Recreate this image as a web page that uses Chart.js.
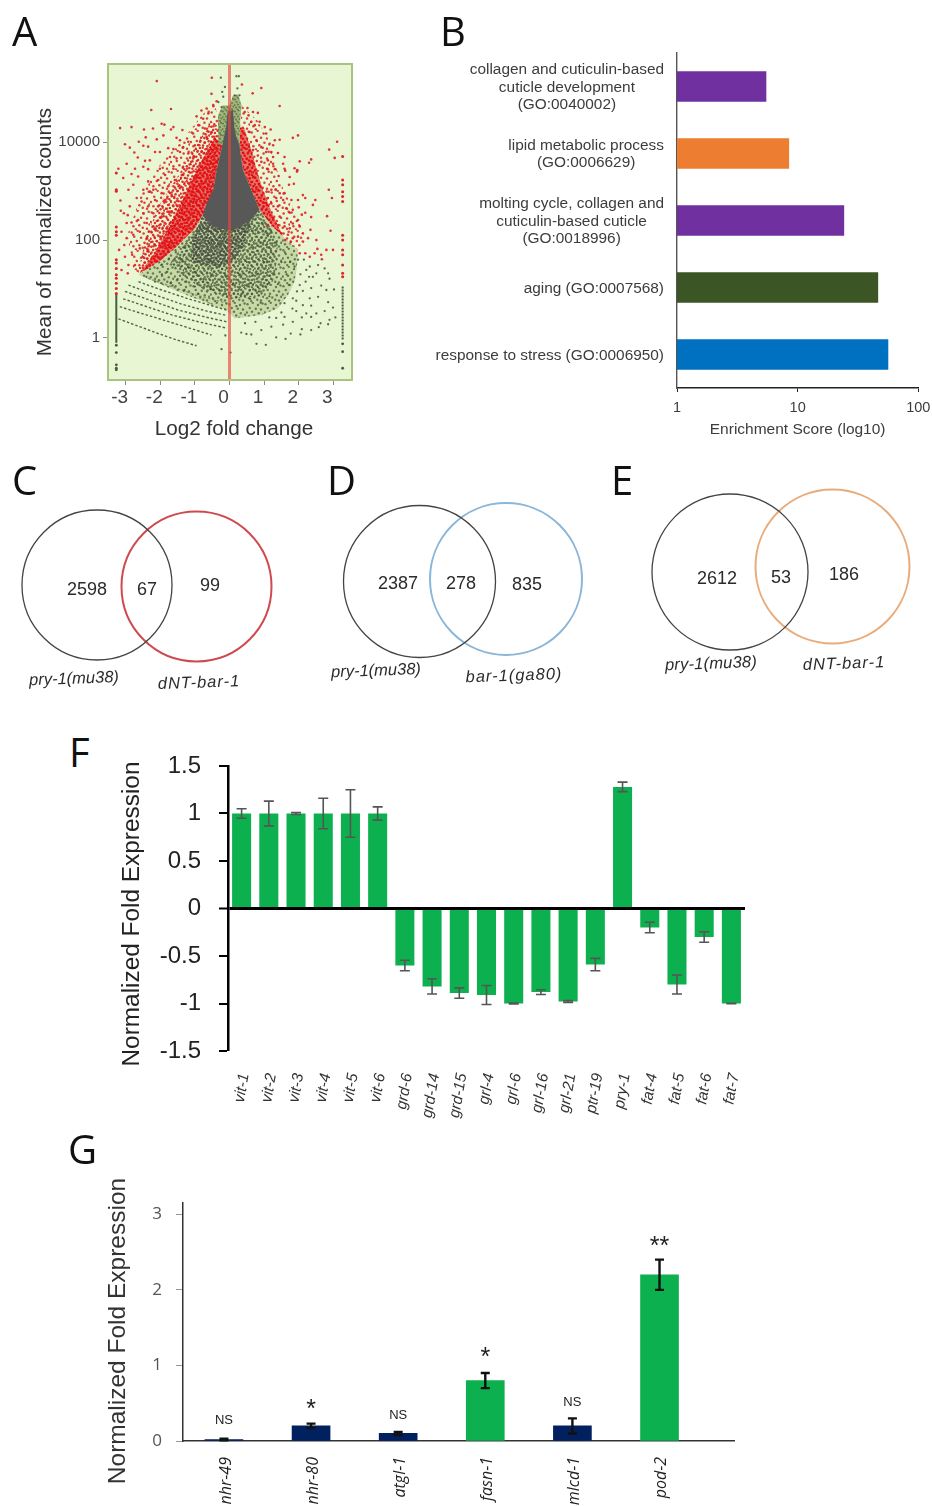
<!DOCTYPE html>
<html>
<head>
<meta charset="utf-8">
<title>Panels A-G</title>
<script src="https://cdn.jsdelivr.net/npm/chart.js@4/dist/chart.umd.js"></script>
<style>
html, body { margin: 0; padding: 0; background: #fff; }
#page { position: relative; width: 932px; height: 1506px; overflow: hidden; }
#page canvas { position: absolute; filter: blur(.4px); }
.letter { position: absolute; font: 40px "Open Sans", sans-serif; color: #111; line-height: 40px; }
</style>
</head>
<body>
<div id="page"></div>
<script>
// ---- panel A: log2 fold change against log10 mean count, [x, log10 y]
const maTicksX = [-3, -2, -1, 0, 1, 2, 3];
const maTicksY = [1, 100, 10000];
const maRedDots = [
  [-2.10,5.25],[-.51,5.32],[-2.26,4.66],[-1.69,4.68],[-3.16,4.29],[-2.83,4.31],[-2.47,4.26],[-2.21,4.28],[-1.96,4.38],[-1.88,4.36],
  [-1.62,4.31],[-1.69,4.26],[-1.36,4.25],[-2.42,4.10],[-1.91,4.14],[-2.10,4.06],[-2.62,4.01],[-3.02,3.96],[-2.88,3.89],[-2.49,3.93],
  [-2.35,3.91],[-2.75,3.79],[-2.65,3.69],[-1.53,4.09],[-1.43,4.04],[-1.77,3.88],[-1.62,3.86],[-1.34,3.90],[-1.43,3.80],[-1.19,4.01],
  [-1.05,4.18],[-.95,4.53],[-.81,4.65],[-.66,4.69],[-.47,4.76],[-.52,4.99],[-.37,4.84],[-.76,4.48],[-.61,4.59],[-.90,4.35],
  [-.71,4.28],[-2.44,3.62],[-2.30,3.63],[-2.15,3.80],[-2.01,3.80],[-1.72,3.70],[-1.53,3.67],[-1.19,3.77],[-1.05,3.67],[-3.21,3.46],
  [-2.97,3.56],[-2.73,3.46],[-2.49,3.50],[-2.35,3.45],[-2.01,3.46],[-1.62,3.46],[-1.34,3.50],[-.85,4.01],[-.66,4.11],[-.52,4.21],
  [-1.00,3.94],[-.81,3.80],[-3.07,3.27],[-2.92,3.03],[-2.78,3.13],[-2.83,3.35],[-2.64,3.30],[-2.35,3.20],[-2.49,3.03],[-2.20,3.03],
  [-2.68,2.86],[-3.15,2.81],[-2.88,2.69],[-3.05,2.55],[-2.94,2.51],[-3.14,2.60],[-2.83,2.36],[-2.97,2.35],[-2.64,2.41],[-2.49,2.55],
  [-2.35,2.69],[-2.15,2.82],[-1.96,2.96],[-1.77,3.10],[-1.58,3.23],[-1.38,3.33],[-1.19,3.16],[-1.00,3.30],[-.81,3.16],[-2.06,3.23],
  [-1.86,3.33],[-2.30,2.99],[-2.54,2.79],[-2.06,2.69],[-1.86,2.82],[-1.67,2.92],[-1.43,3.06],[-1.29,2.86],[-1.09,2.99],[-1.53,2.72],
  [-1.72,2.58],[-1.96,2.48],[-2.20,2.55],[-2.39,2.35],[-2.15,2.24],[-2.59,2.17],[-2.78,2.11],[-2.97,2.04],[-3.12,2.17],[-3.04,1.90],
  [-3.19,1.80],[-2.81,1.70],[-3.02,1.66],[-2.59,1.83],[-2.39,2.04],[-2.35,1.80],[-2.49,1.65],[-2.73,1.49],[-2.92,1.49],[-2.94,1.32],
  [-3.12,1.39],[-2.15,1.90],[-2.01,2.07],[-1.82,2.24],[-1.62,2.41],[-1.38,2.55],[-1.14,2.69],[-.95,2.82],[-.76,3.03],[-.61,3.27],
  [-1.67,2.11],[-1.43,2.28],[-1.19,2.41],[-1.86,1.93],[-2.06,1.77],[-2.25,1.63],
  [.92,5.11],[.36,5.18],[.67,5.00],[1.45,4.74],[.52,4.70],[.68,4.62],[.82,4.60],[.55,4.55],[.44,4.62],[1.98,4.14],
  [1.83,4.09],[1.45,4.05],[1.31,4.04],[1.16,3.97],[1.26,3.94],[1.19,4.26],[1.02,4.31],[1.06,4.18],[.87,4.42],[.73,4.35],
  [.63,4.42],[3.11,4.01],[2.88,3.85],[3.04,3.68],[2.36,3.65],[2.30,3.58],[2.03,3.61],[1.59,3.70],[1.40,3.78],[1.21,3.80],
  [1.06,3.80],[.92,3.90],[1.26,3.70],[1.11,3.63],[1.26,3.56],[1.55,3.56],[1.88,3.47],[1.59,3.46],[1.96,3.43],[1.11,3.45],
  [1.31,3.45],[.92,3.60],[.82,3.73],[.68,3.84],[.78,4.04],[.58,4.21],[2.87,3.03],[2.96,2.86],[2.82,2.49],[2.92,2.19],
  [2.80,1.80],[2.99,1.80],[2.65,1.70],[2.67,1.61],[2.46,1.73],[2.32,1.66],[2.19,1.73],[2.03,1.73],[2.54,1.82],[2.51,2.00],
  [2.34,2.21],[2.36,2.47],[2.19,2.56],[2.09,2.52],[2.00,2.67],[2.48,2.82],[2.41,2.72],[2.19,2.86],[2.12,2.92],[1.98,2.82],
  [1.79,2.82],[1.86,3.15],[1.72,3.13],[1.59,2.96],[1.42,3.31],[1.61,3.42],[1.95,3.40],[1.74,3.29],[1.33,3.03],[1.45,2.96],
  [1.21,3.03],[1.07,2.99],[1.11,2.86],[1.35,2.86],[1.55,2.82],[1.21,2.75],[1.40,2.69],[1.64,2.65],[1.83,2.62],[1.45,2.48],
  [1.74,2.56],[1.98,2.41],[1.83,2.34],[1.59,2.28],[1.74,2.24],[2.03,2.28],[2.12,2.14],[1.69,2.11],[1.83,2.04],[1.98,2.07],
  [1.61,2.00],[1.77,1.97],[2.12,1.97],[2.27,2.04],[1.40,2.31],[1.26,2.41],[1.11,2.31],[1.50,2.14]
];
const maRedColumnLeft = [3.37,3.03,3.0,2.27,2.17,2.1,1.6,1.53,1.42,1.29,1.22,1.12,1.01,.91];
const maRedColumnRight = [3.71,3.23,3.13,2.99,2.89,2.79,2.1,2.0,1.8,1.7,1.49,1.32,1.25];
const maGreenColumnLeft = [.9, -.1];
const maGreenColumnRight = [1.05, -.05];
const maGreenEndLeft = [-.15,-.3,-.55,-.62,-.65];
const maGreenEndRight = [-.12,-.28,-.62];
const maGreenDots = [
  [.78,-.12],[1.05,-.14],[1.35,.01],[1.62,-.02],[2.05,.07],[1.77,.09],[2.36,.16],[2.09,.18],[2.58,.22],[2.85,.28],
  [3.06,.42],[2.89,.37],[2.63,.30],[2.36,.43],[2.09,.42],[1.83,.33],[1.55,.27],[1.21,.23],[.92,.16],[.63,.07],
  [.34,.11],[.49,.08],[1.35,.41],[1.59,.43],[1.93,.55],[2.22,.50],[2.51,.50],[2.75,.55],[2.99,.62],[2.85,.73],
  [2.36,.66],[2.56,.84],[2.32,.81],[2.12,.96],[2.36,1.02],[2.65,1.07],[2.80,.98],[3.02,.99],[2.89,1.21],[2.41,1.25],
  [2.03,1.08],[1.74,1.08],[1.83,.81],[1.59,.71],[1.93,.76],[2.12,.67],[2.56,1.49],[2.32,1.46],[2.22,1.39],[2.75,1.42],
  [2.85,1.32],[2.51,1.32],[1.98,1.60],[1.88,1.46],[.20,5.35],[.27,5.35],[.15,4.96],[.29,4.96],[.23,5.10],[-.25,5.32],
  [-.13,5.13],[-.21,5.03],[-.18,4.93],[-.32,4.82],[-.23,4.72],[-.23,-.23],[.03,-.3],[-.12,.05],
  [-1.1,1.7],[-.9,1.85],[-.7,2.05],[-.5,2.0],[-.3,1.9],[-.1,1.7],[-.6,1.6],[-.8,1.5],[-1.0,1.35],[-1.2,1.45],
  [-1.4,1.6],[-1.6,1.5],[-1.8,1.35],[-1.5,1.2],[-1.25,1.15],[-1.0,1.05],[-.75,1.2],[-.5,1.3],[-.3,1.45],[-.1,1.25],
  [-.55,1.0],[-.3,.98],[-.1,.9],[.1,1.1],[.3,1.3],[.5,1.55],[.7,1.75],[.9,1.95],[.35,1.85],[.15,1.65],
  [.55,1.1],[.8,1.3],[1.0,1.55],[1.2,1.75],[1.35,1.95],[1.1,2.1],[.75,2.2],[.45,2.1],[.2,2.0],[-.15,2.1],
  [.85,.95],[1.1,1.1],[1.3,1.3],[1.5,1.55],[1.6,1.75],[1.75,1.55],[1.65,1.3],[1.4,1.1],[1.15,.85],[.9,.72],
  [.6,.8],[.35,.9],[.2,.65],[-1.95,1.3],[-2.15,1.15],[-2.4,1.25],[-1.7,1.12],[-1.3,.98],[-.9,.9],[-1.55,1.75],
  [-1.3,1.85],[-1.05,2.05],[-.85,2.25],[-.4,2.2],[.05,2.2],[.55,2.3],[.95,2.35],[1.2,2.15],[-1.75,1.62],[-1.95,1.5],
  [2.2,1.15],[2.05,1.3],[2.15,1.6],[1.95,.95],[2.3,1.25],[1.82,.6],[1.5,.52],[1.15,.42],[.75,.33],[.45,.3]
];
const maArcs = [
  [[-3.21,.39],[-2.63,.24],[-2.06,.09],[-1.53,-.04],[-.95,-.16]],
  [[-3.17,.64],[-2.63,.52],[-2.06,.40],[-1.29,.23],[-.52,.06]],
  [[-3.07,.80],[-2.35,.63],[-1.67,.47],[-.90,.33],[-.08,.20]],
  [[-3.02,.95],[-2.25,.76],[-1.48,.57],[-.71,.43],[-.08,.33]],
  [[-2.92,1.08],[-2.15,.88],[-1.38,.69],[-.61,.54],[-.08,.46]],
  [[-2.63,1.15],[-1.96,.98],[-1.19,.80],[-.42,.64],[-.08,.57]],
  [[-2.35,1.22],[-1.67,1.05],[-.98,.88],[-.08,.71]]
];
// outlines of the parts of the cloud too dense to read point by point
const maFunnel = [[-.05,4.65],[.1,4.65],[.14,4.3],[.2,4.1],[.29,3.94],[.39,3.44],[.63,3.03],[.87,2.62],[.62,2.42],[.4,2.32],[.1,2.2],[-.2,2.22],[-.5,2.3],[-.78,2.5],[-.66,2.75],[-.47,3.03],[-.37,3.44],[-.21,3.94],[-.16,4.1],[-.1,4.3]];
const maPlume = [[-.33,3.95],[-.33,4.55],[-.2,4.75],[0,4.75],[.1,4.95],[.25,4.98],[.35,4.75],[.31,4.45],[.29,3.95]];
const maCloud = [[-2.63,1.29],[-2.35,1.42],[-1.96,1.60],[-1.48,1.90],[-1.0,2.24],[-.75,2.55],[.87,2.62],[1.21,2.31],[1.55,2.07],[1.98,1.80],[1.95,1.45],[1.88,1.15],[1.69,.88],[1.4,.6],[.92,.47],[.15,.4],[-.08,.57],[-.9,.78],[-1.67,1.0]];
const maCore = [[-1.0,2.2],[-.7,2.5],[.9,2.6],[1.2,2.25],[1.4,1.9],[1.3,1.2],[.9,.85],[0,.8],[-.8,1.0],[-1.4,1.3],[-1.7,1.55]];
const maCoreDark = [[-.78,2.5],[-1.1,1.95],[-1.1,1.55],[-.3,1.45],[.1,1.55],[.4,1.9],[.65,2.4],[.87,2.62]];
const maRedWideLeft = [[-.45,4.8],[-.8,4.55],[-1.35,4.05],[-2.0,3.55],[-2.55,2.95],[-2.95,2.1],[-2.75,1.3],[-2.35,1.42],[-1.96,1.60],[-1.48,1.90],[-1.0,2.24],[-.75,2.55],[-.47,3.03],[-.37,3.44],[-.21,3.94],[-.33,4.55]];
const maRedWideRight = [[.35,4.75],[.8,4.45],[1.1,4.1],[1.3,3.6],[1.55,3.05],[1.95,2.5],[2.2,2.0],[1.98,1.8],[1.55,2.07],[1.21,2.31],[.87,2.62],[.63,3.03],[.39,3.44],[.29,3.94]];
const maRedMidLeft = [[-.55,4.4],[-1.0,3.9],[-1.5,3.3],[-2.0,2.75],[-2.4,2.1],[-2.65,1.32],[-2.35,1.42],[-1.96,1.60],[-1.48,1.90],[-1.0,2.24],[-.75,2.55],[-.47,3.03],[-.37,3.44],[-.21,3.94],[-.3,4.4]];
const maRedDenseLeft = [[-.42,4.1],[-.75,3.7],[-1.0,3.35],[-1.3,2.9],[-1.75,2.25],[-2.2,1.7],[-2.6,1.32],[-2.35,1.42],[-1.96,1.60],[-1.48,1.90],[-1.0,2.24],[-.75,2.55],[-.47,3.03],[-.37,3.44],[-.21,3.94]];
const maRedDenseRight = [[.3,4.3],[.42,4.3],[.65,3.8],[.8,3.4],[.98,3.0],[1.2,2.6],[1.4,2.3],[1.55,2.07],[1.21,2.31],[.87,2.62],[.63,3.03],[.39,3.44],[.29,3.94]];

// ---- panel B
const goTerms = [
  ['collagen and cuticulin-based', 'cuticle development', '(GO:0040002)'],
  ['lipid metabolic process', '(GO:0006629)'],
  ['molting cycle, collagen and', 'cuticulin-based cuticle', '(GO:0018996)'],
  ['aging (GO:0007568)'],
  ['response to stress (GO:0006950)']
];
const goScores = [5.5, 8.5, 24.3, 46.5, 56.4];
const goTicks = [1, 10, 100];

// ---- panels C, D, E: page coordinates of the circles
const vennCircleX = [97, 196.5, 419.5, 506, 730, 832.5];
const vennCircleY = [585, 586.5, 581.5, 579, 572, 566.5];
const vennCircleR = [75, 75, 76, 76, 78, 77];
const vennCounts = ['2598', '67', '99', '2387', '278', '835', '2612', '53', '186'];
const vennCountX = [87, 147, 210, 398, 461, 527, 717, 781, 844];
const vennCountY = [590, 590, 586, 584, 584, 585, 579, 578, 575];
const vennNames = ['pry-1(mu38)', 'dNT-bar-1', 'pry-1(mu38)', 'bar-1(ga80)', 'pry-1(mu38)', 'dNT-bar-1'];
const vennNameX = [74, 199, 376, 514, 711, 844];
const vennNameY = [679, 683, 671, 676, 664, 664];

// ---- panel F
const geneF = ['vit-1','vit-2','vit-3','vit-4','vit-5','vit-6','grd-6','grd-14','grd-15','grl-4','grl-6','grl-16','grl-21','ptr-19','pry-1','fat-4','fat-5','fat-6','fat-7'];
const foldF = [1, 1, 1, 1, 1, 1, -.6, -.82, -.89, -.91, -1, -.88, -.98, -.59, 1.28, -.2, -.8, -.3, -1];
const errF = [.05, .13, .01, .16, .25, .07, .055, .08, .055, .1, .005, .025, .01, .065, .05, .055, .1, .055, .003];

// ---- panel G
const geneG = ['nhr-49', 'nhr-80', 'atgl-1', 'fasn-1', 'mlcd-1', 'pod-2'];
const foldG = [.02, .2, .1, .8, .2, 2.2];
const errG = [.01, .03, .02, .1, .1, .2];
const sigG = ['NS', '*', 'NS', '*', 'NS', '**'];
const sigHeightG = [.27, .47, .34, 1.16, .51, 2.63];
const ticksG = [0, 1, 2, 3];

const sansFont = '"Liberation Sans", Arial, sans-serif';
Chart.defaults.font.family = sansFont;
Chart.defaults.animation = false;
Chart.defaults.responsive = false;
Chart.defaults.layout.autoPadding = false;
Chart.defaults.plugins.legend.display = false;
Chart.defaults.plugins.tooltip.enabled = false;

const page = document.getElementById('page');

function addCanvas(left, top, w, h) {
  const c = document.createElement('canvas');
  c.width = w;
  c.height = h;
  c.style.left = left + 'px';
  c.style.top = top + 'px';
  c.style.width = w + 'px';
  c.style.height = h + 'px';
  page.appendChild(c);
  return c;
}

function addLetter(text, left, top) {
  const d = document.createElement('div');
  d.className = 'letter';
  d.textContent = text;
  d.style.left = left + 'px';
  d.style.top = top + 'px';
  page.appendChild(d);
}

// fixed axis sizes so the plot areas land where they do in the figure
const fixHeight = h => s => { s.height = h; s.paddingLeft = 0; s.paddingRight = 0; };
const fixWidth = w => s => { s.width = w; s.paddingTop = 0; s.paddingBottom = 0; };

// axis titles whose centre is not the centre of the axis
function captions(list) {
  return {
    id: 'captions',
    afterDraw(chart) {
      const c = chart.ctx;
      list.forEach(t => {
        c.save();
        c.translate(t.x, t.y);
        c.rotate((t.rot || 0) * Math.PI / 180);
        c.font = t.size + 'px ' + sansFont;
        c.fillStyle = t.color;
        c.textAlign = 'center';
        c.textBaseline = 'middle';
        c.fillText(t.text, 0, 0);
        c.restore();
      });
    }
  };
}

// stipple used for the areas where single points can no longer be told apart
const speckle = [[2,3],[9,1],[16,4],[22,2],[5,8],[13,9],[20,10],[1,14],[8,13],[17,15],[23,17],[4,19],[11,18],[15,21],[20,22],[7,23]];

function stipple(dotColor, bg, scale, r) {
  const size = Math.round(24 * scale);
  const t = document.createElement('canvas');
  t.width = size;
  t.height = size;
  const c = t.getContext('2d');
  if (bg) {
    c.fillStyle = bg;
    c.fillRect(0, 0, size, size);
  }
  c.fillStyle = dotColor;
  speckle.forEach(p => {
    c.beginPath();
    c.arc(p[0] * scale, p[1] * scale, r, 0, Math.PI * 2);
    c.fill();
  });
  return c.createPattern(t, 'repeat');
}

const toXY = p => ({ x: p[0], y: Math.pow(10, p[1]) });

function shape(points, color, order) {
  return { data: points.map(toXY), showLine: true, fill: 'shape', backgroundColor: color, borderWidth: 0, pointRadius: 0, order: order };
}

function dots(points, color, r, order) {
  return { data: points.map(toXY), backgroundColor: color, borderWidth: 0, pointRadius: r, order: order };
}

function path(points, color, width, dash, order) {
  return { data: points.map(toXY), showLine: true, borderColor: color, borderWidth: width, borderDash: dash, pointRadius: 0, order: order };
}

// panel A
const maBox = {
  id: 'maBox',
  beforeDatasetsDraw(chart) {
    const a = chart.chartArea, c = chart.ctx;
    c.fillStyle = '#e9f6d3';
    c.fillRect(a.left, a.top, a.width, a.height);
  },
  afterDatasetsDraw(chart) {
    const a = chart.chartArea, c = chart.ctx;
    c.strokeStyle = '#a9c47f';
    c.lineWidth = 2;
    c.strokeRect(a.left, a.top, a.width, a.height);
  }
};

const maColX = 3.27;
const redWide = stipple('rgba(222,28,32,.85)', null, .85, 1.25);
const redMid = stipple('rgba(222,24,28,.9)', null, .62, 1.25);
const redDense = stipple('rgba(226,14,20,1)', 'rgba(226,30,34,.6)', .6, 1.3);
const greenCloud = stipple('rgba(78,100,58,.8)', 'rgba(172,193,132,.55)', .75, 1.2);
const greenCore = stipple('rgba(66,80,52,.75)', null, .6, 1.25);
const greenDark = stipple('rgba(70,70,66,.8)', null, .5, 1.3);
const greenPlume = stipple('rgba(88,108,66,.75)', 'rgba(148,170,108,.85)', .5, 1.1);

const maSets = [
  path([[0, -.86], [0, 5.6]], 'rgba(232,70,60,.65)', 3, [], 0),
  dots(maRedColumnLeft.map(v => [-maColX, v]), '#d9262a', 1.5, 1),
  dots(maRedColumnRight.map(v => [maColX, v]), '#d9262a', 1.5, 1),
  path(maGreenColumnLeft.map(v => [-maColX, v]), '#44603a', 2, [], 1),
  path(maGreenColumnRight.map(v => [maColX, v]), '#44603a', 2, [2, 1], 1),
  dots(maGreenEndLeft.map(v => [-maColX, v]), '#44603a', 1.4, 1),
  dots(maGreenEndRight.map(v => [maColX, v]), '#44603a', 1.4, 1),
  dots(maRedDots, 'rgba(222,30,35,.9)', 1.3, 2),
  shape(maFunnel, '#585858', 3),
  dots(maGreenDots, 'rgba(62,84,48,.85)', 1.15, 4),
  shape(maPlume, greenPlume, 5),
  shape(maCoreDark, greenDark, 6),
  shape(maCore, greenCore, 6),
  shape(maRedDenseLeft, redDense, 7),
  shape(maRedDenseRight, redDense, 7),
  shape(maRedMidLeft, redMid, 8),
  shape(maRedWideLeft, redWide, 8),
  shape(maRedWideRight, redWide, 8),
  shape(maCloud, greenCloud, 9)
];
maArcs.forEach(a => maSets.push(path(a, '#4d6a3c', 1.4, [2.5, 2], 10)));

new Chart(addCanvas(30, 50, 335, 395), {
  type: 'scatter',
  data: { datasets: maSets },
  options: {
    layout: { padding: { top: 14, right: 13 } },
    scales: {
      x: {
        min: -3.51, max: 3.54,
        afterBuildTicks: s => { s.ticks = maTicksX.map(v => ({ value: v })); },
        afterFit: fixHeight(65),
        grid: { drawOnChartArea: false, tickLength: 5, color: '#8a8a8a' },
        border: { display: false },
        ticks: { font: { size: 19 }, color: '#444', padding: 1, labelOffset: -6, maxRotation: 0 }
      },
      y: {
        type: 'logarithmic',
        min: Math.pow(10, -.86), max: Math.pow(10, 5.6),
        afterBuildTicks: s => { s.ticks = maTicksY.map(v => ({ value: v })); },
        afterFit: fixWidth(78),
        grid: { drawOnChartArea: false, tickLength: 5, color: '#8a8a8a' },
        border: { display: false },
        ticks: { font: { size: 15 }, color: '#444', padding: 3, callback: v => String(v) }
      }
    }
  },
  plugins: [maBox, captions([
    { text: 'Mean of normalized counts', x: 15, y: 182, rot: -90, size: 20.7, color: '#333' },
    { text: 'Log2 fold change', x: 204, y: 379, size: 20.7, color: '#333' }
  ])]
});

// panel B, the term lines are centred on their own widest line
const goLabels = {
  id: 'goLabels',
  afterDraw(chart) {
    const c = chart.ctx, s = chart.scales.y, right = chart.chartArea.left - 13;
    c.save();
    c.font = '15.4px ' + sansFont;
    c.fillStyle = '#3c3c3c';
    c.textAlign = 'center';
    c.textBaseline = 'middle';
    goTerms.forEach((lines, i) => {
      const widest = Math.max(...lines.map(l => c.measureText(l).width));
      const y0 = s.getPixelForTick(i) + 1 - (lines.length - 1) * 17.4 / 2;
      lines.forEach((l, k) => c.fillText(l, right - widest / 2, y0 + k * 17.4));
    });
    c.restore();
  }
};

new Chart(addCanvas(420, 45, 512, 400), {
  type: 'bar',
  data: {
    labels: goTerms.map(t => t.join(' ')),
    datasets: [{
      data: goScores,
      backgroundColor: ['#7030a0', '#ed7d31', '#7030a0', '#3b5525', '#0070c0'],
      barPercentage: .454,
      categoryPercentage: 1
    }]
  },
  options: {
    indexAxis: 'y',
    layout: { padding: { top: 8, right: 13.7 } },
    scales: {
      x: {
        type: 'logarithmic',
        min: 1, max: 100,
        afterBuildTicks: s => { s.ticks = goTicks.map(v => ({ value: v })); },
        afterFit: fixHeight(57),
        grid: { drawOnChartArea: false, tickLength: 4, color: '#222' },
        border: { color: '#222', width: 1.6 },
        ticks: { font: { size: 14.5 }, color: '#3c3c3c', padding: 7, maxRotation: 0, callback: v => String(v) },
        title: { display: true, text: 'Enrichment Score (log10)', font: { size: 15.5 }, color: '#3c3c3c', padding: { top: 0, bottom: 6 } }
      },
      y: {
        afterFit: fixWidth(257),
        grid: { display: false },
        border: { color: '#555', width: 1.4 },
        ticks: { display: false }
      }
    }
  },
  plugins: [goLabels]
});

// panels C, D, E share one canvas, scales run in page pixels
const vennSpacing = ['0px', '1px', '0px', '1px', '.2px', '1px'];
const vennText = {
  id: 'vennText',
  afterDraw(chart) {
    const c = chart.ctx, sx = chart.scales.x, sy = chart.scales.y;
    c.save();
    c.textAlign = 'center';
    c.textBaseline = 'middle';
    c.fillStyle = '#2b2b2b';
    c.font = '18px ' + sansFont;
    vennCounts.forEach((t, i) => c.fillText(t, sx.getPixelForValue(vennCountX[i]), sy.getPixelForValue(vennCountY[i])));
    c.font = 'italic 16.5px ' + sansFont;
    vennNames.forEach((t, i) => {
      c.save();
      c.letterSpacing = vennSpacing[i];
      c.translate(sx.getPixelForValue(vennNameX[i]), sy.getPixelForValue(vennNameY[i]));
      c.rotate(-2 * Math.PI / 180);
      c.fillText(t, 0, 0);
      c.restore();
    });
    c.restore();
  }
};

const vennColors = ['#444444', '#cf4a4e', '#444444', '#8ab6d9', '#444444', '#e8ac7c'];
const vennWidths = [1.3, 2, 1.3, 2, 1.3, 2];

new Chart(addCanvas(0, 470, 932, 230), {
  type: 'bubble',
  data: {
    datasets: vennCircleX.map((x, i) => ({
      data: [{ x: x, y: vennCircleY[i], r: vennCircleR[i] }],
      backgroundColor: 'transparent',
      borderColor: vennColors[i],
      borderWidth: vennWidths[i],
      clip: false
    }))
  },
  options: {
    scales: {
      x: { display: false, min: 0, max: 932 },
      y: { display: false, min: 470, max: 700, reverse: true }
    }
  },
  plugins: [vennText]
});

// error bars for F and G, drawn on the bars' own elements
function errorBars(values, errors, color, width, cap) {
  return {
    id: 'errorBars',
    afterDatasetsDraw(chart) {
      const c = chart.ctx, sy = chart.scales.y, bars = chart.getDatasetMeta(0).data;
      c.save();
      c.strokeStyle = color;
      c.lineWidth = width;
      values.forEach((v, i) => {
        const x = bars[i].x, a = sy.getPixelForValue(v + errors[i]), b = sy.getPixelForValue(v - errors[i]);
        c.beginPath();
        c.moveTo(x, a); c.lineTo(x, b);
        c.moveTo(x - cap, a); c.lineTo(x + cap, a);
        c.moveTo(x - cap, b); c.lineTo(x + cap, b);
        c.stroke();
      });
      c.restore();
    }
  };
}

// panel F
new Chart(addCanvas(110, 755, 650, 375), {
  type: 'bar',
  data: {
    labels: geneF,
    datasets: [{ data: foldF, backgroundColor: '#0db04f', barPercentage: .7, categoryPercentage: 1 }]
  },
  options: {
    layout: { padding: { top: 11, right: 15 } },
    scales: {
      x: {
        afterFit: fixHeight(79),
        grid: { display: false },
        border: { display: false },
        ticks: { font: { size: 15.5, style: 'italic' }, color: '#333', padding: 13, labelOffset: 3, minRotation: 80, maxRotation: 80, autoSkip: false }
      },
      y: {
        min: -1.5, max: 1.5,
        afterFit: fixWidth(118),
        grid: {
          z: 1,
          color: ctx => ctx.tick.value === 0 ? '#000' : 'transparent',
          lineWidth: ctx => ctx.tick.value === 0 ? 3 : 0,
          tickColor: '#000', tickWidth: 2, tickLength: 9
        },
        border: { color: '#000', width: 2.5, z: 1 },
        ticks: { stepSize: .5, font: { size: 24 }, color: '#222', padding: 18, callback: v => String(v) }
      }
    }
  },
  plugins: [errorBars(foldF, errF, '#555', 1.6, 5), captions([
    { text: 'Normalized Fold Expression', x: 22, y: 159, rot: -90, size: 24.4, color: '#222' }
  ])]
});

// panel G
const sigText = {
  id: 'sigText',
  afterDraw(chart) {
    const c = chart.ctx, sy = chart.scales.y, bars = chart.getDatasetMeta(0).data;
    c.save();
    c.textAlign = 'center';
    c.textBaseline = 'middle';
    c.fillStyle = '#222';
    sigG.forEach((t, i) => {
      const stars = t !== 'NS';
      c.font = (stars ? 25 : 13) + 'px ' + sansFont;
      c.fillText(t, bars[i].x, sy.getPixelForValue(sigHeightG[i]) + (stars ? 5 : 0));
    });
    c.restore();
  }
};

new Chart(addCanvas(90, 1165, 660, 341), {
  type: 'bar',
  data: {
    datasets: [{
      data: foldG.map((v, i) => ({ x: i, y: v })),
      backgroundColor: ['#002060', '#002060', '#002060', '#0db04f', '#002060', '#0db04f'],
      barThickness: 38
    }]
  },
  options: {
    layout: { padding: { top: 38, right: 16 } },
    scales: {
      x: {
        type: 'linear',
        offset: false,
        min: -.47, max: 5.855,
        afterBuildTicks: s => { s.ticks = geneG.map((g, i) => ({ value: i })); },
        afterFit: fixHeight(65),
        grid: { display: false },
        border: { color: '#333', width: 1.5 },
        ticks: { font: { family: '"Open Sans", sans-serif', size: 16, style: 'italic' }, color: '#222', padding: 8, labelOffset: 2, minRotation: 90, maxRotation: 90, autoSkip: false, callback: v => geneG[v] }
      },
      y: {
        min: 0, max: 3.15,
        afterBuildTicks: s => { s.ticks = ticksG.map(v => ({ value: v })); },
        afterFit: fixWidth(93),
        grid: { drawOnChartArea: false, tickLength: 7, color: '#999' },
        border: { color: '#333', width: 1.5 },
        ticks: { font: { family: '"Open Sans", sans-serif', size: 17 }, color: '#555', padding: 14 }
      }
    }
  },
  plugins: [errorBars(foldG, errG, '#111', 2.4, 4.5), sigText, captions([
    { text: 'Normalized Fold Expression', x: 28, y: 166, rot: -90, size: 24.5, color: '#333' }
  ])]
});

addLetter('A', 12, 11);
addLetter('B', 440, 11);
addLetter('C', 12, 460);
addLetter('D', 327, 460);
addLetter('E', 611, 460);
addLetter('F', 69, 732);
addLetter('G', 68, 1129);
</script>
</body>
</html>
